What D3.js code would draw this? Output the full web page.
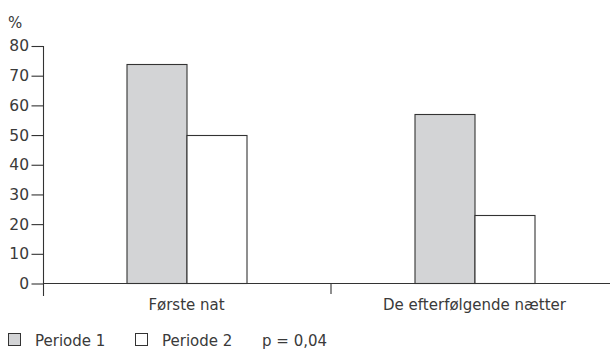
<!DOCTYPE html>
<html>
<head>
<meta charset="utf-8">
<script src="https://cdn.jsdelivr.net/npm/d3@7"></script>
<style>
  html, body { margin: 0; padding: 0; background: #fff; }
  svg { display: block; }
  text { font-family: "DejaVu Sans", sans-serif; fill: #3a3a3a; }
</style>
</head>
<body>
<svg id="chart" width="610" height="350"></svg>
<script>
const categories = ["Første nat", "De efterfølgende nætter"];
const seriesNames = ["Periode 1", "Periode 2"];
const periode1 = [74, 57];
const periode2 = [50, 23];
const yTicks = [0, 10, 20, 30, 40, 50, 60, 70, 80];
const yUnit = "%";
const note = "p = 0,04";
const colors = ["#d3d4d6", "#ffffff"];

const values = [periode1, periode2];
const svg = d3.select("#chart");
const axisX = 43.5, baseY = 283.5, topY = 46;

const y = d3.scaleLinear().domain([0, 80]).range([baseY, topY]);
const x0 = d3.scaleBand().domain(categories).range([42.5, 618.5]).padding(0);
const x1 = d3.scaleBand().domain(seriesNames).range([0, x0.bandwidth()]).paddingInner(0).paddingOuter(1.4);

const ink = "#333";

// bars
categories.forEach((c, ci) => {
  seriesNames.forEach((s, si) => {
    const v = values[si][ci];
    svg.append("rect")
      .attr("x", x0(c) + x1(s) + 0.5)
      .attr("y", Math.round(y(v)) + 0.5)
      .attr("width", x1.bandwidth())
      .attr("height", baseY - Math.round(y(v)) - 0.5)
      .attr("fill", colors[si])
      .attr("stroke", ink)
      .attr("stroke-width", 1.1);
  });
});

// y axis
const yAxis = d3.axisLeft(y).tickValues(yTicks).tickSize(12).tickPadding(3).tickSizeOuter(0);
const gy = svg.append("g").attr("transform", `translate(${axisX},0)`).call(yAxis);
gy.select(".domain").remove();
gy.selectAll(".tick line").attr("stroke", ink).attr("stroke-width", 1.1);
gy.selectAll(".tick text").style("font-size", "15.5px").attr("fill", "#3a3a3a").attr("x", -14.5);
svg.append("line").attr("x1", axisX).attr("x2", axisX).attr("y1", topY).attr("y2", baseY + 12.5)
  .attr("stroke", ink).attr("stroke-width", 1.1);

// x axis
svg.append("line").attr("x1", axisX).attr("x2", 610).attr("y1", baseY).attr("y2", baseY)
  .attr("stroke", ink).attr("stroke-width", 1.1);
categories.slice(1).forEach(c => {
  svg.append("line").attr("x1", x0(c) + 0.5).attr("x2", x0(c) + 0.5).attr("y1", baseY).attr("y2", baseY + 10.5)
    .attr("stroke", ink).attr("stroke-width", 1.1);
});
categories.forEach(c => {
  svg.append("text").attr("x", x0(c) + x0.bandwidth() / 2).attr("y", 310)
    .attr("text-anchor", "middle").style("font-size", "15px").text(c);
});

// unit
svg.append("text").attr("x", 8).attr("y", 28).style("font-size", "15px").text(yUnit);

// legend
const legendX = [8, 135];
seriesNames.forEach((s, i) => {
  svg.append("rect").attr("x", legendX[i] + 0.5).attr("y", 333.5).attr("width", 12).attr("height", 12)
    .attr("fill", colors[i]).attr("stroke", ink).attr("stroke-width", 1);
  svg.append("text").attr("x", legendX[i] + 27).attr("y", 346).style("font-size", "15px").text(s);
});
svg.append("text").attr("x", 262).attr("y", 346).style("font-size", "15px").text(note);
</script>
</body>
</html>
